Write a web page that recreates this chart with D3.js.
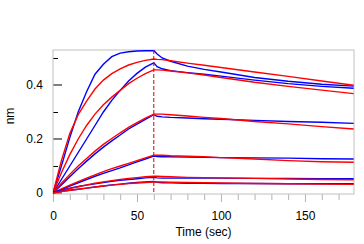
<!DOCTYPE html>
<html>
<head>
<meta charset="utf-8">
<script src="https://cdn.jsdelivr.net/npm/d3@7"></script>
<style>
  body { margin: 0; background: #fff; }
  text { font-family: "Liberation Sans", Arial, sans-serif; font-size: 12px; fill: #000; }
</style>
</head>
<body>
<div id="chart"></div>
<script>
// sample times (sec)
var times = [0, 5, 10, 15, 20, 25, 30, 35, 40, 45, 50, 55, 60, 62, 65, 70, 80, 90, 100, 120, 140, 160, 179];

// measured response (blue), highest concentration first
var measured1 = [0, 0.1, 0.205, 0.3, 0.375, 0.44, 0.477, 0.505, 0.518, 0.523, 0.526, 0.527, 0.528, 0.515, 0.5, 0.488, 0.47, 0.458, 0.448, 0.428, 0.414, 0.403, 0.396];
var measured2 = [0, 0.05, 0.1, 0.15, 0.2, 0.25, 0.3, 0.343, 0.38, 0.415, 0.443, 0.466, 0.482, 0.468, 0.46, 0.453, 0.446, 0.44, 0.433, 0.418, 0.405, 0.395, 0.388];
var measured3 = [0, 0.03, 0.06, 0.09, 0.118, 0.145, 0.17, 0.193, 0.215, 0.237, 0.255, 0.273, 0.29, 0.284, 0.282, 0.28, 0.278, 0.275, 0.273, 0.269, 0.265, 0.262, 0.258];
var measured4 = [0, 0.013, 0.026, 0.038, 0.05, 0.062, 0.073, 0.083, 0.093, 0.104, 0.115, 0.126, 0.137, 0.135, 0.134, 0.134, 0.133, 0.132, 0.131, 0.13, 0.129, 0.127, 0.126];
var measured5 = [0.003, 0.01, 0.018, 0.024, 0.029, 0.034, 0.039, 0.043, 0.047, 0.05, 0.053, 0.056, 0.058, 0.056, 0.055, 0.055, 0.056, 0.055, 0.055, 0.054, 0.054, 0.053, 0.053];
var measured6 = [0.002, 0.006, 0.01, 0.014, 0.018, 0.022, 0.026, 0.03, 0.033, 0.036, 0.039, 0.041, 0.043, 0.04, 0.038, 0.038, 0.036, 0.036, 0.035, 0.035, 0.034, 0.034, 0.034];

// fitted curves (red)
var fit1 = [0, 0.12, 0.22, 0.29, 0.34, 0.385, 0.418, 0.442, 0.46, 0.474, 0.484, 0.491, 0.496, 0.495, 0.494, 0.49, 0.481, 0.473, 0.465, 0.448, 0.432, 0.415, 0.399];
var fit2 = [0, 0.075, 0.142, 0.2, 0.25, 0.292, 0.327, 0.355, 0.38, 0.405, 0.425, 0.442, 0.456, 0.456, 0.455, 0.452, 0.445, 0.437, 0.428, 0.41, 0.395, 0.381, 0.368];
var fit3 = [0, 0.036, 0.069, 0.1, 0.128, 0.155, 0.18, 0.202, 0.223, 0.243, 0.261, 0.277, 0.292, 0.292, 0.292, 0.29, 0.285, 0.28, 0.276, 0.265, 0.256, 0.246, 0.237];
var fit4 = [0, 0.015, 0.029, 0.042, 0.055, 0.067, 0.079, 0.09, 0.1, 0.11, 0.12, 0.13, 0.14, 0.14, 0.14, 0.138, 0.136, 0.134, 0.131, 0.126, 0.12, 0.116, 0.114];
var fit5 = [0, 0.008, 0.016, 0.023, 0.03, 0.036, 0.041, 0.046, 0.05, 0.054, 0.057, 0.06, 0.062, 0.062, 0.061, 0.06, 0.058, 0.057, 0.056, 0.054, 0.052, 0.05, 0.049];
var fit6 = [0, 0.005, 0.01, 0.014, 0.018, 0.022, 0.026, 0.029, 0.032, 0.035, 0.037, 0.039, 0.041, 0.041, 0.041, 0.04, 0.039, 0.038, 0.037, 0.035, 0.034, 0.033, 0.032];

var measuredSeries = [measured1, measured2, measured3, measured4, measured5, measured6];
var fitSeries = [fit1, fit2, fit3, fit4, fit5, fit6];

var dissocStart = 60;
var xMajor = [0, 50, 100, 150];
var xMinor = [10, 20, 30, 40, 60, 70, 80, 90, 110, 120, 130, 140, 160, 170];
var yMajor = [0, 0.2, 0.4];
var yMinor = [0.1, 0.3, 0.5];

var margin = {top: 50, right: 10, bottom: 50, left: 53},
    width = 364 - margin.left - margin.right,
    height = 244 - margin.top - margin.bottom;

var x = d3.scaleLinear().domain([0, 179.2]).range([0, width]);
var y = d3.scaleLinear().domain([-0.0037, 0.5296]).range([height, 0]);

var svg = d3.select("#chart").append("svg")
    .attr("width", 364)
    .attr("height", 244)
    .append("g")
    .attr("transform", "translate(" + margin.left + "," + margin.top + ")");

svg.append("clipPath").attr("id", "clip")
    .append("rect").attr("width", width).attr("height", height);

// x ticks (outward, gray)
svg.append("g")
    .attr("transform", "translate(0," + height + ")")
    .call(d3.axisBottom(x).tickValues(xMinor).tickSize(6).tickFormat(""))
    .call(function(g) { g.select(".domain").remove(); g.selectAll("line").attr("stroke", "#b4b4b4"); });
svg.append("g")
    .attr("transform", "translate(0," + height + ")")
    .call(d3.axisBottom(x).tickValues(xMajor).tickSize(8).tickPadding(9).tickFormat(d3.format("d")))
    .call(function(g) {
        g.select(".domain").remove();
        g.selectAll("line").attr("stroke", "#b4b4b4");
        g.selectAll("text").style("font-size", "12px").attr("fill", "#000");
    });

// y ticks (inward, black)
svg.append("g")
    .call(d3.axisRight(y).tickValues(yMinor).tickSize(5).tickFormat(""))
    .call(function(g) { g.select(".domain").remove(); g.selectAll("line").attr("stroke", "#000"); });
svg.append("g")
    .call(d3.axisLeft(y).tickValues(yMajor).tickSize(0).tickPadding(10).tickFormat(function(d) { return d === 0 ? "0" : d3.format(".1f")(d); }))
    .call(function(g) {
        g.select(".domain").remove();
        g.selectAll("text").style("font-size", "12px").attr("fill", "#000");
    });
svg.selectAll(".ymajor").data(yMajor).enter().append("line")
    .attr("x1", 0).attr("x2", 9)
    .attr("y1", function(d) { return y(d); }).attr("y2", function(d) { return y(d); })
    .attr("stroke", "#000");

// frame
svg.append("rect")
    .attr("width", width).attr("height", height)
    .attr("fill", "none").attr("stroke", "#c0c0c0");

var line = d3.line()
    .x(function(d, i) { return x(times[i]); })
    .y(function(d) { return y(d); });

var plot = svg.append("g").attr("clip-path", "url(#clip)");

measuredSeries.forEach(function(s, k) {
    plot.append("path").datum(s)
        .attr("fill", "none").attr("stroke", "#0000ff").attr("stroke-width", 1.4)
        .attr("d", line);
    plot.append("path").datum(fitSeries[k])
        .attr("fill", "none").attr("stroke", "#ff0000").attr("stroke-width", 1.4)
        .attr("d", line);
});

// start of dissociation
svg.append("line")
    .attr("x1", x(dissocStart)).attr("x2", x(dissocStart))
    .attr("y1", 0).attr("y2", height)
    .attr("stroke", "#e00000").attr("stroke-dasharray", "4,2");

svg.append("text")
    .attr("x", width / 2).attr("y", height + 42)
    .attr("text-anchor", "middle")
    .text("Time (sec)");

svg.append("text")
    .attr("transform", "translate(-39," + (y(0.5296) + 66) + ") rotate(-90)")
    .attr("text-anchor", "middle")
    .text("nm");
</script>
</body>
</html>
